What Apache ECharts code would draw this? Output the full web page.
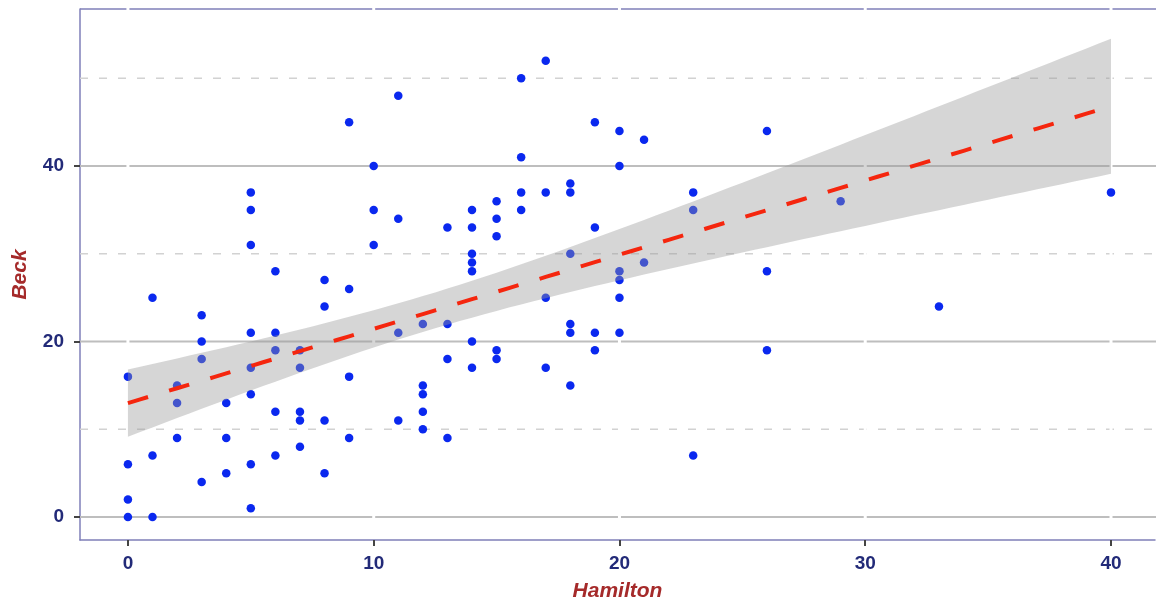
<!DOCTYPE html>
<html>
<head>
<meta charset="utf-8">
<script src="https://cdn.jsdelivr.net/npm/echarts@6/dist/echarts.min.js"></script>
<style>
html,body{margin:0;padding:0;background:#fff;}
#chart{width:1156px;height:607px;}
</style>
</head>
<body>
<div id="chart"></div>
<script>
// ---- data ----
const hamilton = [0,0,0,0, 1,1,1, 2,2,2, 3,3,3,3, 4,4,4,
  5,5,5,5,5,5,5,5, 6,6,6,6,6, 7,7,7,7,7, 8,8,8,8, 9,9,9,9, 10,10,10,
  11,11,11,11, 12,12,12,12,12, 13,13,13,13, 14,14,14,14,14,14,14,
  15,15,15,15,15, 16,16,16,16, 17,17,17,17, 18,18,18,18,18,18,
  19,19,19,19, 20,20,20,20,20,20, 21,21, 23,23,23, 26,26,26, 29, 33, 40];
const beck = [16,6,2,0, 25,7,0, 15,13,9, 23,20,18,4, 13,9,5,
  37,35,31,21,17,14,6,1, 28,21,19,12,7, 19,17,12,11,8, 27,24,11,5, 45,26,16,9, 40,35,31,
  48,34,21,11, 22,15,14,12,10, 33,22,18,9, 35,33,30,29,28,20,17,
  36,34,32,19,18, 50,41,37,35, 52,37,25,17, 38,37,30,22,21,15,
  45,33,21,19, 44,40,28,27,25,21, 43,29, 37,35,7, 44,28,19, 36, 24, 37];
const xTicks = [0, 10, 20, 30, 40];
const yMajor = [0, 20, 40];
const yMinor = [10, 30, 50];
const xAxisTitle = 'Hamilton';
const yAxisTitle = 'Beck';

// ---- linear model fit (geom_smooth, method = lm, 95% CI) ----
const n = hamilton.length;
const mx = hamilton.reduce((a,b)=>a+b,0)/n;
const my = beck.reduce((a,b)=>a+b,0)/n;
let sxx=0, sxy=0;
for (let i=0;i<n;i++){ sxx+=(hamilton[i]-mx)**2; sxy+=(hamilton[i]-mx)*(beck[i]-my); }
const slope = sxy/sxx, icpt = my - slope*mx;
let sse=0;
for (let i=0;i<n;i++){ const r = beck[i]-(icpt+slope*hamilton[i]); sse+=r*r; }
const sigma = Math.sqrt(sse/(n-2));
const tq = 1.983;
const xLo = Math.min(...hamilton), xHi = Math.max(...hamilton);
const fitPts = [], band = [];
for (let k=0;k<=80;k++){
  const x = xLo + (xHi-xLo)*k/80;
  const yh = icpt + slope*x;
  const se = sigma*Math.sqrt(1/n + (x-mx)**2/sxx);
  fitPts.push([x, yh]);
  band.push([x, yh - tq*se, yh + tq*se]);
}

const pts = hamilton.map((h,i)=>[h, beck[i]]);
const FONT = "'Liberation Sans', Arial, sans-serif";
const XMIN = -1.95, XMAX = 41.79, YMIN = -2.62, YMAX = 57.9;

const chart = echarts.init(document.getElementById('chart'), null, {renderer:'canvas'});
chart.setOption({
  animation:false,
  backgroundColor:'#ffffff',
  grid:{left:80, right:1, top:9, bottom:67, show:false, containLabel:false},
  xAxis:{
    type:'value', min:XMIN, max:XMAX,
    name:xAxisTitle, nameLocation:'middle', nameGap:41,
    nameTextStyle:{color:'#a52a2a', fontSize:21, fontWeight:'bold', fontStyle:'italic', fontFamily:FONT},
    axisLine:{show:true, onZero:false, lineStyle:{color:'#7f7fb8', width:1.5}},
    axisTick:{show:true, length:6, customValues:xTicks, lineStyle:{color:'#444', width:2}},
    axisLabel:{customValues:xTicks, margin:14, color:'#222a78', fontSize:19, fontWeight:'bold', fontFamily:FONT},
    splitLine:{show:false}
  },
  yAxis:{
    type:'value', min:YMIN, max:YMAX,
    name:yAxisTitle, nameLocation:'middle', nameGap:49, nameRotate:90,
    nameTextStyle:{color:'#a52a2a', fontSize:21, fontWeight:'bold', fontStyle:'italic', fontFamily:FONT},
    axisLine:{show:true, onZero:false, lineStyle:{color:'#7f7fb8', width:1.5}},
    axisTick:{show:true, length:6, customValues:yMajor, lineStyle:{color:'#444', width:2}},
    axisLabel:{customValues:yMajor, margin:16, color:'#222a78', fontSize:19, fontWeight:'bold', fontFamily:FONT},
    splitLine:{show:false}
  },
  series:[
    { // panel grid lines and top border
      type:'custom', z:1, silent:true, data:[[0,0]],
      renderItem:function(params, api){
        const kids = [];
        const hline = (v, style) => {
          const a = api.coord([XMIN, v]), b = api.coord([XMAX, v]);
          kids.push({type:'line', shape:{x1:a[0], y1:a[1], x2:b[0]+10, y2:b[1]}, style:style});
        };
        hline(YMAX, {stroke:'#7f7fb8', lineWidth:1.5});
        yMinor.forEach(v => hline(v, {stroke:'#d2d2d2', lineWidth:1.4, lineDash:[8,11]}));
        yMajor.forEach(v => hline(v, {stroke:'#bebebe', lineWidth:2}));
        xTicks.forEach(v => {
          const a = api.coord([v, YMIN+0.2]), b = api.coord([v, YMAX]);
          kids.push({type:'line', shape:{x1:a[0], y1:a[1], x2:b[0], y2:b[1]-1}, style:{stroke:'#ffffff', lineWidth:3}});
        });
        return {type:'group', children:kids};
      }
    },
    {
      type:'scatter', data:pts, z:2, symbol:'circle', symbolSize:8.5,
      itemStyle:{color:'#0a28ef', opacity:1}
    },
    {
      type:'custom', z:3, silent:true, data:band,
      renderItem:function(params, api){
        if (params.dataIndex !== 0) return null;
        const top = band.map(b=>api.coord([b[0], b[2]]));
        const bot = band.slice().reverse().map(b=>api.coord([b[0], b[1]]));
        return {type:'polygon', shape:{points:top.concat(bot)}, style:{fill:'rgba(153,153,153,0.4)', stroke:null}};
      }
    },
    {
      type:'line', data:fitPts, z:4, showSymbol:false, symbol:'none',
      lineStyle:{color:'#f5260e', width:4, type:[21,22]}
    }
  ]
});
</script>
</body>
</html>
